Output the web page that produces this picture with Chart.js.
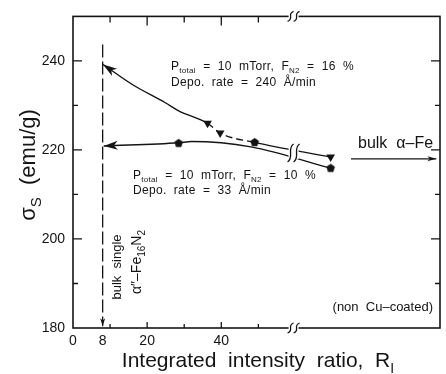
<!DOCTYPE html>
<html>
<head>
<meta charset="utf-8">
<script src="https://cdn.jsdelivr.net/npm/chart.js@4.4.1/dist/chart.umd.min.js"></script>
<style>
  html, body { margin: 0; padding: 0; background: #fff; }
  canvas { display: block; }
</style>
</head>
<body>
<canvas id="sigmaChart" width="446" height="374"></canvas>
<script>
// sigma_s vs integrated intensity ratio; axis is broken at R_I = 60
const xTicks = [0, 8, 20, 40];
const yTicks = [180, 200, 220, 240];
const xMarks = [10, 20, 30, 40, 50];
const yMarks = [190, 200, 210, 220, 230, 240];

// F_N2 = 16 % (down triangles)
const triX = [36.3, 39.7, 69.5];
const triY = [226.0, 223.8, 218.4];
// F_N2 = 10 % (pentagons)
const pentX = [28.5, 49.0, 69.5];
const pentY = [221.5, 221.7, 215.9];

// guide curves through the points, first point is the arrow tip
const upperX = [8.1, 16.0, 24.9, 28.5, 36.3, 39.7, 49.0, 69.5];
const upperY = [239.2, 234.7, 230.6, 228.8, 226.0, 223.8, 221.7, 218.4];
const lowerX = [8.3, 28.5, 32.0, 48.0, 69.5];
const lowerY = [220.9, 221.6, 221.9, 220.7, 215.9];

// bulk alpha"-Fe16N2 marker line and bulk alpha-Fe arrow
const bulkNX = [8, 8];
const bulkNY = [243.7, 180.4];
const bulkFeX = [75.0, 98.0];
const bulkFeY = [218.0, 218.0];

const BREAK_X = 59.5;
const INK = '#141414';
const FONT = '"Liberation Sans", Arial, sans-serif';

const pts = (xs, ys) => xs.map((v, i) => ({ x: v, y: ys[i] }));

function pentagon(r) {
  const c = document.createElement('canvas');
  c.width = c.height = 2 * r + 2;
  const g = c.getContext('2d');
  g.beginPath();
  for (let i = 0; i < 5; i++) {
    const a = -Math.PI / 2 + i * 2 * Math.PI / 5;
    g.lineTo(r + 1 + r * Math.cos(a), r + 1 + r * Math.sin(a));
  }
  g.closePath();
  g.fillStyle = INK;
  g.fill();
  return c;
}

function runsFont(size, sub) {
  return (sub ? Math.round(size * 0.68) : size) + 'px ' + FONT;
}
function runsWidth(ctx, runs, size) {
  let w = 0;
  for (const [t, s] of runs) { ctx.font = runsFont(size, s); w += ctx.measureText(t).width; }
  return w;
}
function drawRuns(ctx, runs, x, y, size) {
  let cx = x;
  for (const [t, s] of runs) {
    ctx.font = runsFont(size, s);
    ctx.fillText(t, cx, y + (s ? size * 0.28 : 0));
    cx += ctx.measureText(t).width;
  }
}

function arrowHead(ctx, tx, ty, fx, fy, len, half) {
  const ang = Math.atan2(ty - fy, tx - fx);
  ctx.save();
  ctx.translate(tx, ty);
  ctx.rotate(ang);
  ctx.beginPath();
  ctx.moveTo(0, 0);
  ctx.lineTo(-len, -half);
  ctx.lineTo(-len * 0.72, 0);
  ctx.lineTo(-len, half);
  ctx.closePath();
  ctx.fill();
  ctx.restore();
}

function breakMark(ctx, cx, cy, h) {
  ctx.fillStyle = '#fff';
  ctx.fillRect(cx - 5, cy - h / 2 + 3, 10, h - 6);
  ctx.fillStyle = INK;
  for (const dx of [-3, 3]) {
    const x0 = cx + dx;
    ctx.beginPath();
    ctx.moveTo(x0 - 3, cy + h / 2);
    ctx.bezierCurveTo(x0 + 4, cy + h / 4, x0 - 4, cy - h / 4, x0 + 3, cy - h / 2);
    ctx.stroke();
  }
}

const notes = [
  { runs: [['P', 0], ['total', 1], ['  =  10  mTorr,  F', 0], ['N2', 1], ['  =  16  %', 0]], x: 171, y: 70, size: 12 },
  { runs: [['Depo.  rate  =  240  Å/min', 0]], x: 171, y: 86, size: 12 },
  { runs: [['P', 0], ['total', 1], ['  =  10  mTorr,  F', 0], ['N2', 1], ['  =  10  %', 0]], x: 133, y: 179, size: 12 },
  { runs: [['Depo.  rate  =  33  Å/min', 0]], x: 133, y: 194, size: 12 }
];

const decor = {
  id: 'decor',
  afterDraw(chart) {
    const { ctx, chartArea: a, scales: { x, y } } = chart;
    ctx.save();
    ctx.strokeStyle = INK;
    ctx.fillStyle = INK;

    // frame
    ctx.lineWidth = 1.6;
    ctx.strokeRect(a.left, a.top, a.right - a.left, a.bottom - a.top);

    // inside ticks
    ctx.lineWidth = 1.3;
    ctx.beginPath();
    for (const v of yMarks) {
      const py = y.getPixelForValue(v);
      const major = v % 20 === 0;
      ctx.moveTo(a.left, py); ctx.lineTo(a.left + (major ? 9 : 5), py);
      ctx.moveTo(a.right, py); ctx.lineTo(a.right - (major ? 9 : 5), py);
    }
    for (const v of xMarks) {
      const px = x.getPixelForValue(v);
      const major = v % 20 === 0;
      ctx.moveTo(px, a.bottom); ctx.lineTo(px, a.bottom - (major ? 6 : 4));
      ctx.moveTo(px, a.top); ctx.lineTo(px, a.top + (major ? 9 : 6));
    }
    ctx.stroke();

    // axis breaks
    const bx = x.getPixelForValue(BREAK_X);
    ctx.lineWidth = 1.3;
    breakMark(ctx, bx, a.top, 10);
    breakMark(ctx, bx, a.bottom, 10);
    const upAt = y.getPixelForValue(220.0);
    const loAt = y.getPixelForValue(218.6);
    breakMark(ctx, bx, (upAt + loAt) / 2, 18);

    // arrow heads
    arrowHead(ctx, x.getPixelForValue(upperX[0]), y.getPixelForValue(upperY[0]),
      x.getPixelForValue(upperX[1]), y.getPixelForValue(upperY[1]), 14, 4.5);
    arrowHead(ctx, x.getPixelForValue(lowerX[0]), y.getPixelForValue(lowerY[0]),
      x.getPixelForValue(lowerX[1]), y.getPixelForValue(lowerY[1]), 14, 4.5);
    arrowHead(ctx, x.getPixelForValue(bulkNX[1]), y.getPixelForValue(bulkNY[1]),
      x.getPixelForValue(bulkNX[0]), y.getPixelForValue(bulkNY[0]), 8, 2.5);
    arrowHead(ctx, x.getPixelForValue(bulkFeX[1]), y.getPixelForValue(bulkFeY[1]),
      x.getPixelForValue(bulkFeX[0]), y.getPixelForValue(bulkFeY[0]), 9, 2.5);

    // annotations
    ctx.textBaseline = 'alphabetic';
    ctx.textAlign = 'left';
    ctx.letterSpacing = '0.3px';
    for (const n of notes) drawRuns(ctx, n.runs, n.x, n.y, n.size);
    ctx.letterSpacing = '0px';

    ctx.font = '16px ' + FONT;
    ctx.fillText('bulk  α–Fe', 358, 148);
    ctx.font = '13px ' + FONT;
    ctx.textAlign = 'right';
    ctx.fillText('(non  Cu–coated)', 433, 311);
    ctx.textAlign = 'left';

    // vertical labels next to the dashed line
    const vert = (runs, cx, cy, size) => {
      ctx.save();
      ctx.translate(cx, cy);
      ctx.rotate(-Math.PI / 2);
      drawRuns(ctx, runs, -runsWidth(ctx, runs, size) / 2, size * 0.36, size);
      ctx.restore();
    };
    vert([['bulk  single', 0]], 116, 267, 13);
    vert([['α″–Fe', 0], ['16', 1], ['N', 0], ['2', 1]], 136, 262, 14);

    // axis titles
    vert([['σ', 0], ['S', 1], ['  (emu/g)', 0]], 27, 165, 22);
    const xt = [['Integrated  intensity  ratio,  R', 0], ['I', 1]];
    drawRuns(ctx, xt, 258 - runsWidth(ctx, xt, 21) / 2, 367, 21);

    ctx.restore();
  }
};

const dash16 = c => (c.p0DataIndex === 4 || c.p0DataIndex === 5) ? [7, 4] : [];

new Chart(document.getElementById('sigmaChart'), {
  type: 'scatter',
  data: {
    datasets: [
      {
        data: pts(upperX, upperY), showLine: true, borderColor: INK, borderWidth: 1.4,
        pointRadius: 0, cubicInterpolationMode: 'monotone', segment: { borderDash: dash16 }
      },
      {
        data: pts(lowerX, lowerY), showLine: true, borderColor: INK, borderWidth: 1.4,
        pointRadius: 0, cubicInterpolationMode: 'monotone'
      },
      {
        data: pts(bulkNX, bulkNY), showLine: true, borderColor: INK, borderWidth: 1.3,
        borderDash: [13, 4], pointRadius: 0
      },
      {
        data: pts(bulkFeX, bulkFeY), showLine: true, borderColor: INK, borderWidth: 1.1,
        pointRadius: 0
      },
      {
        data: pts(triX, triY), pointStyle: 'triangle', rotation: 180, pointRadius: 5,
        backgroundColor: INK, borderColor: INK, borderWidth: 0
      },
      {
        data: pts(pentX, pentY), pointStyle: pentagon(4.5), pointRadius: 5,
        backgroundColor: INK, borderColor: INK
      }
    ]
  },
  options: {
    responsive: false,
    animation: false,
    layout: { padding: { top: 15, right: 1, left: 0, bottom: 0 } },
    plugins: { legend: { display: false }, tooltip: { enabled: false } },
    scales: {
      x: {
        type: 'linear', min: 0, max: 99,
        afterBuildTicks: s => { s.ticks = xTicks.map(v => ({ value: v })); },
        afterFit: s => { s.height = 46; },
        grid: { display: false, drawTicks: false },
        border: { display: false },
        ticks: { color: INK, padding: 5, font: { family: FONT, size: 14 } }
      },
      y: {
        min: 180, max: 250,
        afterBuildTicks: s => { s.ticks = yTicks.map(v => ({ value: v })); },
        afterFit: s => { s.width = 73; },
        grid: { display: false, drawTicks: false },
        border: { display: false },
        ticks: { color: INK, padding: 8, font: { family: FONT, size: 14 } }
      }
    }
  },
  plugins: [decor]
});
</script>
</body>
</html>
